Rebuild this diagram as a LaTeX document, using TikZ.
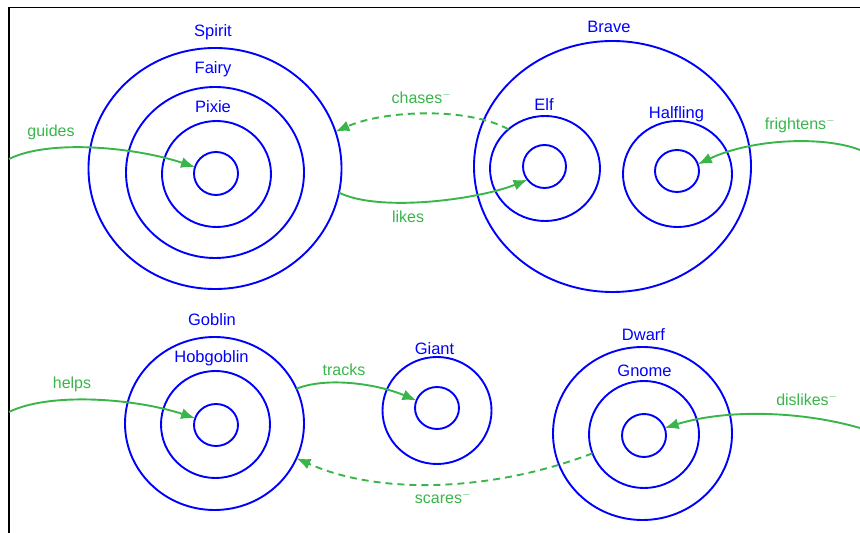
\documentclass[tikz,border=0pt]{standalone}
\usepackage{fontspec}
\setmainfont{Liberation Sans}
\usetikzlibrary{shapes.geometric, arrows.meta}
\definecolor{setblue}{RGB}{0,0,255}
\definecolor{relgreen}{RGB}{57,181,74}

\begin{document}
\begin{tikzpicture}[x=1pt, y=1pt,
  set/.style={draw=setblue, line width=1.9pt, ellipse, inner sep=0pt, outer sep=0pt},
  setlabel/.style={text=setblue, anchor=base, inner sep=0pt, font=\fontsize{16.5}{19}\selectfont},
  rel/.style={draw=relgreen, line width=1.9pt, -{Latex[length=14pt, width=11pt]}},
  neg/.style={rel, dash pattern=on 7pt off 5pt},
  rellabel/.style={text=relgreen, anchor=base, inner sep=0pt, font=\fontsize{16}{19}\selectfont}]

\useasboundingbox (0,0) rectangle (860,533);

% frame, only top and left edges are visible
\draw[line width=1.5pt] (9,0) |- (860,525.5);

% Spirit > Fairy > Pixie
\node[set, minimum width=253pt, minimum height=241pt] (spirit) at (215,364.5) {};
\node[set, minimum width=178pt, minimum height=171pt] (fairy) at (215,360.5) {};
\node[set, minimum width=109pt, minimum height=106pt] (pixie) at (216.5,359) {};
\node[set, minimum width=44pt, minimum height=43pt] (pixiecore) at (216,359.5) {};
\node[setlabel] (spiritlabel) at (213,496) {Spirit};
\node[setlabel] (fairylabel) at (213,459) {Fairy};
\node[setlabel] (pixielabel) at (213,420.5) {Pixie};

% Brave holds Elf and Halfling
\node[set, minimum width=277pt, minimum height=251pt] (brave) at (612.5,366.5) {};
\node[set, minimum width=110pt, minimum height=105pt] (elf) at (545,364.5) {};
\node[set, minimum width=43pt, minimum height=43pt] (elfcore) at (544.5,366.5) {};
\node[set, minimum width=109pt, minimum height=106pt] (halfling) at (677.5,359) {};
\node[set, minimum width=44pt, minimum height=42pt] (halflingcore) at (677,362) {};
\node[setlabel] (bravelabel) at (609,500.5) {Brave};
\node[setlabel] (elflabel) at (544,422) {Elf};
\node[setlabel] (halflinglabel) at (676.5,414.5) {Halfling};

% Goblin > Hobgoblin
\node[set, minimum width=179pt, minimum height=173pt] (goblin) at (214.5,109.5) {};
\node[set, minimum width=109pt, minimum height=107pt] (hobgoblin) at (215.5,108.5) {};
\node[set, minimum width=44pt, minimum height=42pt] (hobgoblincore) at (216,108) {};
\node[setlabel] (goblinlabel) at (212,207) {Goblin};
\node[setlabel] (hobgoblinlabel) at (211.5,170) {Hobgoblin};

% Giant
\node[set, minimum width=109pt, minimum height=107pt] (giant) at (437,122.5) {};
\node[set, minimum width=44pt, minimum height=42pt] (giantcore) at (437,125) {};
\node[setlabel] (giantlabel) at (434.5,178) {Giant};

% Dwarf > Gnome
\node[set, minimum width=179pt, minimum height=173pt] (dwarf) at (642.5,99.5) {};
\node[set, minimum width=110pt, minimum height=107pt] (gnome) at (644,98.5) {};
\node[set, minimum width=44pt, minimum height=43pt] (gnomecore) at (644,97.5) {};
\node[setlabel] (dwarflabel) at (643.5,192.5) {Dwarf};
\node[setlabel] (gnomelabel) at (644.5,156) {Gnome};

% loose ends of the arrows coming in from outside
\coordinate (guidesstart) at (9,374);
\coordinate (frightensstart) at (860,383);
\coordinate (helpsstart) at (9,121);
\coordinate (dislikesstart) at (860,105);

% relations
\draw[rel] (guidesstart) .. controls +(40,20) and +(-60,20) .. (pixiecore.163);
\draw[rel] (spirit.-11) .. controls +(40,-20) and +(-50,-20) .. (elfcore.218);
\draw[neg] (elf.133) .. controls +(-40,22) and +(50,22) .. (spirit.17);
\draw[rel] (frightensstart) .. controls +(-35,14) and +(55,26) .. (halflingcore.18);
\draw[rel] (helpsstart) .. controls +(40,20) and +(-60,20) .. (hobgoblincore.162);
\draw[rel] (goblin.23) .. controls +(30,12) and +(-40,17) .. (giantcore.160);
\draw[neg] (gnome.200) .. controls +(-90,-35) and +(90,-40) .. (goblin.-23);
\draw[rel] (dislikesstart) .. controls +(-55,16) and +(65,20) .. (gnomecore.20);

% relation labels
\node[rellabel] (guideslabel) at (51,396.5) {guides};
\node[rellabel] (likeslabel) at (408,310.5) {likes};
\node[rellabel] (chaseslabel) at (421.5,429) {chases$^{-}$};
\node[rellabel] (frightenslabel) at (800,403) {frightens$^{-}$};
\node[rellabel] (helpslabel) at (72,144) {helps};
\node[rellabel] (trackslabel) at (344,157) {tracks};
\node[rellabel] (scareslabel) at (443,29.5) {scares$^{-}$};
\node[rellabel] (dislikeslabel) at (807,127.5) {dislikes$^{-}$};

\end{tikzpicture}
\end{document}
